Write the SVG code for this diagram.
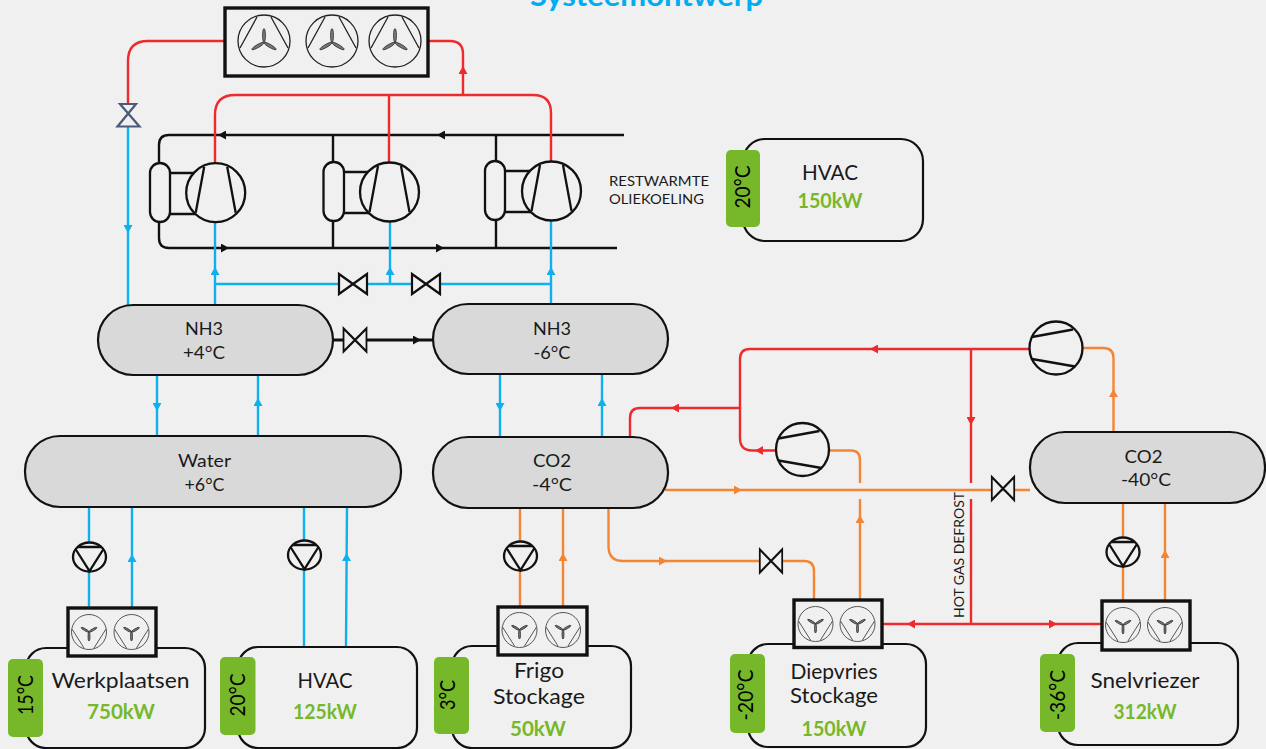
<svg xmlns="http://www.w3.org/2000/svg" width="1266" height="749" viewBox="0 0 1266 749">
<style>
text{font-family:"Lato","Noto Sans","Liberation Sans",sans-serif;fill:#1a1a1a;text-anchor:middle}
.title{font-size:28px;font-weight:700;fill:#00aeef}
.v{font-size:18px}
.n{font-size:21px}
.kw{font-size:21px;font-weight:700;fill:#76b82a}
.t{font-size:21px;fill:#000}
.s{font-size:14px}
.tag{fill:#76b82a}
.room{fill:none;stroke:#111;stroke-width:2.200}
.ves{fill:#d9d9d9;stroke:#111;stroke-width:2.200}
.box{fill:#f0f0f0;stroke:#111;stroke-width:3.400}
.bl,.rd,.or,.bk{fill:none;stroke-width:2.400}
.bl{stroke:#0fb0ee}.rd{stroke:#ed2a2c}.or{stroke:#f48533}.bk{stroke:#111}
.valve{fill:#f0f0f0;stroke:#111;stroke-width:2.200}
.line{fill:none;stroke:#111;stroke-width:2.300}
.comp{fill:#f0f0f0;stroke:#111;stroke-width:2.300}
.fan{fill:none;stroke:#555;stroke-width:1}
.fanb{fill:#777;stroke:#333;stroke-width:.8}
</style>
<defs>
<marker id="ab" markerUnits="userSpaceOnUse" markerWidth="8" markerHeight="9" refX="1" refY="4.500" orient="auto"><polygon points="0,0 8,4.500 0,9" fill="#0fb0ee"/></marker>
<marker id="ar" markerUnits="userSpaceOnUse" markerWidth="8" markerHeight="9" refX="1" refY="4.500" orient="auto"><polygon points="0,0 8,4.500 0,9" fill="#ed2a2c"/></marker>
<marker id="ao" markerUnits="userSpaceOnUse" markerWidth="8" markerHeight="9" refX="1" refY="4.500" orient="auto"><polygon points="0,0 8,4.500 0,9" fill="#f48533"/></marker>
<marker id="ak" markerUnits="userSpaceOnUse" markerWidth="8" markerHeight="9" refX="1" refY="4.500" orient="auto"><polygon points="0,0 8,4.500 0,9" fill="#111"/></marker>
<g id="bigfan">
<circle r="26" fill="none" stroke="#222" stroke-width="1.300"/>
<path fill="none" stroke="#222" stroke-width="1.300" d="M-7-24L-24 7M7-24L24 7"/>
<g class="fanb" transform="translate(0 1.500)"><ellipse cx="0" cy="-7" rx="1.500" ry="7"/><ellipse cx="0" cy="-7" rx="1.500" ry="7" transform="rotate(120)"/><ellipse cx="0" cy="-7" rx="1.500" ry="7" transform="rotate(240)"/></g>
</g>
<g id="smallfan">
<circle class="fan" r="17.500"/>
<path class="fan" d="M-17-3L-5 16M17-3L5 16"/>
<g class="fanb"><ellipse cx="0" cy="4.500" rx="1" ry="4.500"/><ellipse cx="0" cy="4.500" rx="1" ry="4.500" transform="rotate(120)"/><ellipse cx="0" cy="4.500" rx="1" ry="4.500" transform="rotate(240)"/></g>
</g>
<g id="pump">
<ellipse class="comp" rx="16.500" ry="14.500"/>
<path class="line" d="M-12-10H12M-14-8L0 14L14-8"/>
</g>
<g id="bigcomp">
<circle class="comp" r="29.500"/>
<path class="line" d="M-11.500-26L-20 20M11.500-26L20 20"/>
</g>
<g id="smallcomp">
<circle class="comp" r="26.500"/>
<path class="line" d="M-24-11L17-18.500M-24 11L19 18.500"/>
</g>
<g id="valve"><path class="valve" d="M-14-10V10L14-10V10Z"/></g>
</defs>
<rect width="1266" height="749" fill="#f0f0f0"/>
<text class="title" x="646.500" y="6" textLength="233" lengthAdjust="spacingAndGlyphs">Systeemontwerp</text>

<g id="connectors">
<path class="bk" d="M624 135H169Q159 135 159 145V163M159 222V238Q159 248 169 248H617M333 135V162M333 221V248M496 135V161M496 220V248"/>
<path class="bk" marker-end="url(#ak)" d="M226 135H225"/>
<path class="bk" marker-end="url(#ak)" d="M445 135H444"/>
<path class="bk" marker-end="url(#ak)" d="M221 248H222"/>
<path class="bk" marker-end="url(#ak)" d="M436 248H437"/>
<path class="line" d="M170 173H197M170 214H197M344 172H371M344 213H371M505 171H534M505 212H534"/>
<path class="rd" d="M224 41H148Q128 41 128 61V104M429 41H450Q463 41 463 54V95M215 163V115Q215 95 235 95H533Q551 95 551 113V161M389 95V162"/>
<path class="rd" d="M630 437V418Q630 408 640 408H740M1030 349H750Q740 349 740 359V438Q740 450.500 752 450.500H777M971 349V483M971 499V624M883 624H1101"/>
<path class="rd" marker-end="url(#ar)" d="M463 74V73"/>
<path class="rd" marker-end="url(#ar)" d="M679 408H678"/>
<path class="rd" marker-end="url(#ar)" d="M878 349H877"/>
<path class="rd" marker-end="url(#ar)" d="M763 450.500H762"/>
<path class="rd" marker-end="url(#ar)" d="M971 417V418"/>
<path class="rd" marker-end="url(#ar)" d="M915 624H914"/>
<path class="rd" marker-end="url(#ar)" d="M1049 624H1050"/>
<path class="bl" d="M128 127V305M215 305V222M215 284H551M390 284V222M551 304V220M157 375V436M258 375V436M500 374V437M602 374V437M89 507V607M132 507V607M304 507V647M347 507L346 647"/>
<path class="bl" marker-end="url(#ab)" d="M128 225V226"/>
<path class="bl" marker-end="url(#ab)" d="M215 275V274"/>
<path class="bl" marker-end="url(#ab)" d="M390 275V274"/>
<path class="bl" marker-end="url(#ab)" d="M551 275V274"/>
<path class="bl" marker-end="url(#ab)" d="M157 403V404"/>
<path class="bl" marker-end="url(#ab)" d="M258 406V405"/>
<path class="bl" marker-end="url(#ab)" d="M500 403V404"/>
<path class="bl" marker-end="url(#ab)" d="M602 406V405"/>
<path class="bl" marker-end="url(#ab)" d="M132 562V561"/>
<path class="bl" marker-end="url(#ab)" d="M346.500 561V560"/>
<path class="or" d="M665 490H1030M608.500 508V546Q608.500 561 623 561H760M782 561H804Q814 561 814 571V599M828 450.500H851Q860 450.500 860 460V483M860 499V599M1082 348H1103Q1113.500 348 1113.500 358V432M520 508V606M563 508V606M1123 503V601M1165 503V601"/>
<path class="or" marker-end="url(#ao)" d="M734 490H735"/>
<path class="or" marker-end="url(#ao)" d="M659 561H660"/>
<path class="or" marker-end="url(#ao)" d="M860 523V522"/>
<path class="or" marker-end="url(#ao)" d="M1113.500 397V396"/>
<path class="or" marker-end="url(#ao)" d="M563 561V560"/>
<path class="or" marker-end="url(#ao)" d="M1165 558V557"/>
<path class="bk" style="stroke-width:2.800" d="M333 340H343M366 340H433"/>
<path class="bk" marker-end="url(#ak)" d="M413 340H414"/>
</g>

<g id="condenser">
<rect class="box" x="225" y="8" width="203" height="68"/>
<use href="#bigfan" x="264" y="41"/><use href="#bigfan" x="332" y="41"/><use href="#bigfan" x="395" y="41"/>
</g>
<g id="expansion-valve"><path fill="none" stroke="#4a5a78" stroke-width="2.200" d="M120 104H136L117.500 126.500H139.500Z"/></g>

<g id="compressor-1"><rect class="comp" x="150" y="163" width="20" height="59" rx="10"/><use href="#bigcomp" x="215.700" y="192.700"/></g>
<g id="compressor-2"><rect class="comp" x="323.500" y="162" width="20.500" height="59" rx="10"/><use href="#bigcomp" x="389.500" y="192"/></g>
<g id="compressor-3"><rect class="comp" x="485" y="161" width="20" height="59" rx="10"/><use href="#bigcomp" x="551.500" y="191"/></g>

<g id="restwarmte"><text class="s" x="659" y="186" textLength="100" lengthAdjust="spacingAndGlyphs">RESTWARMTE</text><text class="s" x="656.500" y="204" textLength="95" lengthAdjust="spacingAndGlyphs">OLIEKOELING</text></g>

<g id="hvac-top">
<rect class="room" x="743" y="139" width="180" height="102" rx="22"/>
<rect class="tag" x="726" y="150" width="34" height="77" rx="5"/>
<text class="t" transform="translate(750 187) rotate(-90)" textLength="43" lengthAdjust="spacingAndGlyphs">20°C</text>
<text class="n" x="830" y="180" textLength="56" lengthAdjust="spacingAndGlyphs">HVAC</text>
<text class="kw" x="830" y="208" textLength="65" lengthAdjust="spacingAndGlyphs">150kW</text>
</g>

<g id="valves-nh3"><use href="#valve" x="353" y="284"/><use href="#valve" x="426" y="284"/><use href="#valve" transform="translate(355 340) scale(.82 1.150)"/></g>
<g id="valves-co2"><use href="#valve" transform="translate(771 561) scale(.8 1.150)"/><use href="#valve" transform="translate(1003 488.500) scale(.8 1.150)"/></g>

<g id="nh3-plus4"><rect class="ves" x="98" y="305" width="235" height="70" rx="35"/><text class="v" x="204" y="335" textLength="38" lengthAdjust="spacingAndGlyphs">NH3</text><text class="v" x="204" y="359" textLength="42" lengthAdjust="spacingAndGlyphs">+4°C</text></g>
<g id="nh3-min6"><rect class="ves" x="433" y="304" width="235" height="70" rx="35"/><text class="v" x="552" y="335" textLength="38" lengthAdjust="spacingAndGlyphs">NH3</text><text class="v" x="552" y="359" textLength="37" lengthAdjust="spacingAndGlyphs">-6°C</text></g>
<g id="water"><rect class="ves" x="25" y="436" width="376" height="71" rx="35"/><text class="v" x="204.500" y="467" textLength="53" lengthAdjust="spacingAndGlyphs">Water</text><text class="v" x="204.500" y="491" textLength="40" lengthAdjust="spacingAndGlyphs">+6°C</text></g>
<g id="co2-min4"><rect class="ves" x="433" y="437" width="235" height="71" rx="35"/><text class="v" x="552" y="467" textLength="38" lengthAdjust="spacingAndGlyphs">CO2</text><text class="v" x="552" y="491" textLength="40" lengthAdjust="spacingAndGlyphs">-4°C</text></g>
<g id="co2-min40"><rect class="ves" x="1030" y="432" width="235" height="71" rx="35"/><text class="v" x="1143.500" y="463" textLength="38" lengthAdjust="spacingAndGlyphs">CO2</text><text class="v" x="1146" y="486" textLength="50" lengthAdjust="spacingAndGlyphs">-40°C</text></g>

<g id="comp-co2-1"><use href="#smallcomp" x="802.500" y="449.500"/></g>
<g id="comp-co2-2"><use href="#smallcomp" x="1056" y="348"/></g>

<g id="hot-gas"><text class="s" transform="translate(964 555) rotate(-90)" textLength="126" lengthAdjust="spacingAndGlyphs">HOT GAS DEFROST</text></g>

<g id="pumps"><use href="#pump" x="89.500" y="557"/><use href="#pump" x="304.500" y="555"/><use href="#pump" x="520.500" y="556"/><use href="#pump" x="1123" y="552"/></g>

<g id="werkplaatsen">
<rect class="room" x="26" y="648" width="179" height="100" rx="20"/>
<rect class="box" x="68" y="608" width="88" height="48"/>
<use href="#smallfan" x="89" y="632"/><use href="#smallfan" x="131.500" y="632"/>
<rect class="tag" x="8" y="659" width="35" height="78" rx="5"/>
<text class="t" transform="translate(33 695) rotate(-90)" textLength="40" lengthAdjust="spacingAndGlyphs">15°C</text>
<text class="n" x="120.500" y="688" textLength="138" lengthAdjust="spacingAndGlyphs">Werkplaatsen</text>
<text class="kw" x="121" y="719" textLength="68" lengthAdjust="spacingAndGlyphs">750kW</text>
</g>
<g id="hvac">
<rect class="room" x="238" y="647" width="179" height="101" rx="20"/>
<rect class="tag" x="220" y="657" width="35.500" height="78" rx="5"/>
<text class="t" transform="translate(245 695) rotate(-90)" textLength="43" lengthAdjust="spacingAndGlyphs">20°C</text>
<text class="n" x="325" y="688" textLength="55" lengthAdjust="spacingAndGlyphs">HVAC</text>
<text class="kw" x="325" y="719" textLength="64" lengthAdjust="spacingAndGlyphs">125kW</text>
</g>
<g id="frigo">
<rect class="room" x="452" y="646" width="179" height="102" rx="20"/>
<rect class="box" x="498" y="607" width="89" height="48"/>
<use href="#smallfan" x="519.500" y="630"/><use href="#smallfan" x="563" y="630"/>
<rect class="tag" x="434" y="657" width="35" height="77" rx="5"/>
<text class="t" transform="translate(455 695) rotate(-90)" textLength="30" lengthAdjust="spacingAndGlyphs">3°C</text>
<text class="n" x="539" y="678" textLength="50" lengthAdjust="spacingAndGlyphs">Frigo</text>
<text class="n" x="539" y="704" textLength="92" lengthAdjust="spacingAndGlyphs">Stockage</text>
<text class="kw" x="538" y="736" textLength="56" lengthAdjust="spacingAndGlyphs">50kW</text>
</g>
<g id="diepvries">
<rect class="room" x="748" y="644" width="178" height="103" rx="20"/>
<rect class="box" x="794" y="600" width="88" height="47.500"/>
<use href="#smallfan" x="815.500" y="624"/><use href="#smallfan" x="857.500" y="624"/>
<rect class="tag" x="730" y="654" width="35" height="79" rx="5"/>
<text class="t" transform="translate(753 695) rotate(-90)" textLength="51" lengthAdjust="spacingAndGlyphs">-20°C</text>
<text class="n" x="834" y="679" textLength="87" lengthAdjust="spacingAndGlyphs">Diepvries</text>
<text class="n" x="834" y="703" textLength="88" lengthAdjust="spacingAndGlyphs">Stockage</text>
<text class="kw" x="834" y="736" textLength="65" lengthAdjust="spacingAndGlyphs">150kW</text>
</g>
<g id="snelvriezer">
<rect class="room" x="1058" y="643" width="180" height="102" rx="20"/>
<rect class="box" x="1102" y="601" width="88" height="49"/>
<use href="#smallfan" x="1123" y="625"/><use href="#smallfan" x="1165" y="625"/>
<rect class="tag" x="1040" y="654" width="35" height="78" rx="5"/>
<text class="t" transform="translate(1065 695) rotate(-90)" textLength="50" lengthAdjust="spacingAndGlyphs">-36°C</text>
<text class="n" x="1145" y="688" textLength="109" lengthAdjust="spacingAndGlyphs">Snelvriezer</text>
<text class="kw" x="1145" y="719" textLength="63" lengthAdjust="spacingAndGlyphs">312kW</text>
</g>
</svg>
